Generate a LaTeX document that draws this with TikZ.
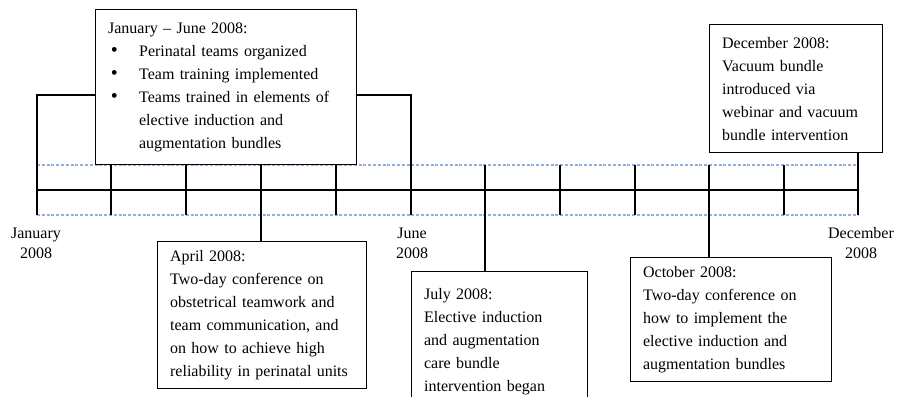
\documentclass[tikz,border=0pt]{standalone}
\usepackage{fontspec}
\setmainfont{Liberation Serif}
\usepackage{tikz}
\usetikzlibrary{positioning,calc}
\definecolor{gridblue}{RGB}{150,175,215}
\newcommand{\bitem}[1]{\\\makebox[23.25pt][l]{\hspace{2pt}%
  \raisebox{-0.6pt}{\fontsize{15}{15}\selectfont\textbullet}}%
  \parbox[t]{153.5pt}{#1}}

\begin{document}
\begin{tikzpicture}[x=0.75pt,y=-0.75pt,line width=0.9pt,
    font={\fontsize{12}{17.25}\selectfont},
    evbox/.style={draw,fill=white,anchor=north west,align=left,
      inner xsep=9.4pt,inner ysep=4pt},
    monthlbl/.style={align=center,inner sep=0pt,
      font={\fontsize{12}{15}\selectfont}},
    guide/.style={gridblue,line width=0.8pt,dash pattern=on 2.2pt off 1.4pt}]
  \useasboundingbox (0,0) rectangle (898,396);
  % timeline grid
  \draw[guide] (37,165) -- (858,165);
  \draw[guide] (37,215) -- (858,215);
  \draw (37,190) -- (858,190);
  \foreach \x [count=\i from 0] in {37,111,186,261,336,411,485,560,635,709,784,858} {
    \coordinate (top\i) at (\x,165);
    \coordinate (bot\i) at (\x,215);
    \draw (top\i) -- (bot\i);
  }
  % month labels
  \node[monthlbl] (jan) at (36,243) {January\\2008};
  \node[monthlbl] (jun) at (412,243) {June\\2008};
  \node[monthlbl] (dec) at (861,243) {December\\2008};
  % events
  \node[evbox,text width=176.95pt,minimum height=116.25pt] (teams) at (95,9)
    {January -- June 2008:
     \bitem{Perinatal teams organized}
     \bitem{Team training implemented}
     \bitem{Teams trained in elements of\\elective induction and\\augmentation bundles}};
  \node[evbox,text width=137.95pt,minimum height=110.25pt] (april) at (157,241)
    {April 2008:\\Two-day conference on\\obstetrical teamwork and\\team communication, and\\on how to achieve high\\reliability in perinatal units};
  \node[evbox,text width=113.2pt,minimum height=105pt] (july) at (411,271)
    {July 2008:\\Elective induction\\and augmentation\\care bundle\\intervention began};
  \node[evbox,text width=131.95pt,minimum height=93pt] (october) at (630,257)
    {October 2008:\\Two-day conference on\\how to implement the\\elective induction and\\augmentation bundles};
  \node[evbox,text width=110.95pt,minimum height=96pt] (december) at (709,24)
    {December 2008:\\Vacuum bundle\\introduced via\\webinar and vacuum\\bundle intervention};
  % connectors
  \coordinate (brk) at (0,95);
  \draw (top0) |- (brk -| teams.west);
  \draw (top5) |- (brk -| teams.east);
  \draw (bot3) -- (bot3 |- april.north);
  \draw (bot6) -- (bot6 |- july.north);
  \draw (bot9) -- (bot9 |- october.north);
  \draw (top11) -- (top11 |- december.south);
\end{tikzpicture}
\end{document}
